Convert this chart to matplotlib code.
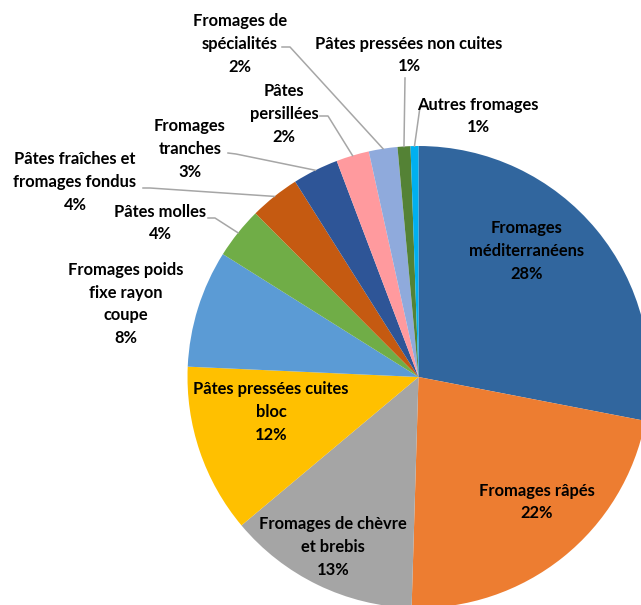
import matplotlib.pyplot as plt
import numpy as np

categories = [
    "Fromages\nméditerranéens",
    "Fromages râpés",
    "Fromages de chèvre\net brebis",
    "Pâtes pressées cuites\nbloc",
    "Fromages poids\nfixe rayon\ncoupe",
    "Pâtes molles",
    "Pâtes fraîches et\nfromages fondus",
    "Fromages\ntranches",
    "Pâtes\npersillées",
    "Fromages de\nspécialités",
    "Pâtes pressées non cuites",
    "Autres fromages",
]
shares = [28.0, 22.4, 13.4, 11.8, 8.2, 3.6, 3.5, 3.2, 2.3, 2.0, 0.9, 0.55]
colors = ["#31669E", "#ED7D31", "#A5A5A5", "#FFC000", "#5B9BD5", "#70AD47",
          "#C55A11", "#2E5597", "#FF9A9E", "#8FAADC", "#548235", "#00B0F0"]

# label block centres (image px, y from top) and leader start points
label_pos = [(527, 251), (537, 502), (333, 547), (271, 412), (126, 304),
             (160, 223), (75, 182), (190, 149), (284, 114), (240, 44),
             (409, 55), (478, 116)]
leader_start = {5: [(208, 218), (215, 218)],
                6: [(143, 188), (150, 188)],
                7: [(228, 153), (236, 154)],
                8: [(320, 116), (328, 116)],
                9: [(282, 47), (290, 47)],
                10: [(405, 78)],
                11: [(425, 107), (420, 107)]}

W, H = 641, 605
cx, cy, R = 418.5, 377, 231

plt.rcParams['font.family'] = ['Lato', 'DejaVu Sans']
fig = plt.figure(figsize=(W / 100, H / 100), dpi=100)
ax = fig.add_axes([0, 0, 1, 1])

wedges, _ = ax.pie(shares, colors=colors, startangle=90, counterclock=False,
                   center=(cx, H - cy), radius=R, frame=True,
                   wedgeprops=dict(linewidth=0))
ax.set_xlim(0, W)
ax.set_ylim(0, H)
ax.set_aspect('equal')
ax.axis('off')

total = sum(shares)
for i, (name, val) in enumerate(zip(categories, shares)):
    x, y = label_pos[i]
    ax.text(x, H - y, f"{name}\n{val / total * 100:.0f}%", ha='center', va='center',
            fontsize=11.9, fontweight='bold', color='black', linespacing=1.52)
    if i in leader_start:
        w = wedges[i]
        mid = np.deg2rad((w.theta1 + w.theta2) / 2)
        ex, ey = cx + R * np.cos(mid), (H - cy) + R * np.sin(mid)
        pts = [(px, H - py) for px, py in leader_start[i]] + [(ex, ey)]
        xs, ys = zip(*pts)
        ax.plot(xs, ys, color='#A6A6A6', lw=1.1, zorder=1)

plt.savefig('out.png', dpi=100)
